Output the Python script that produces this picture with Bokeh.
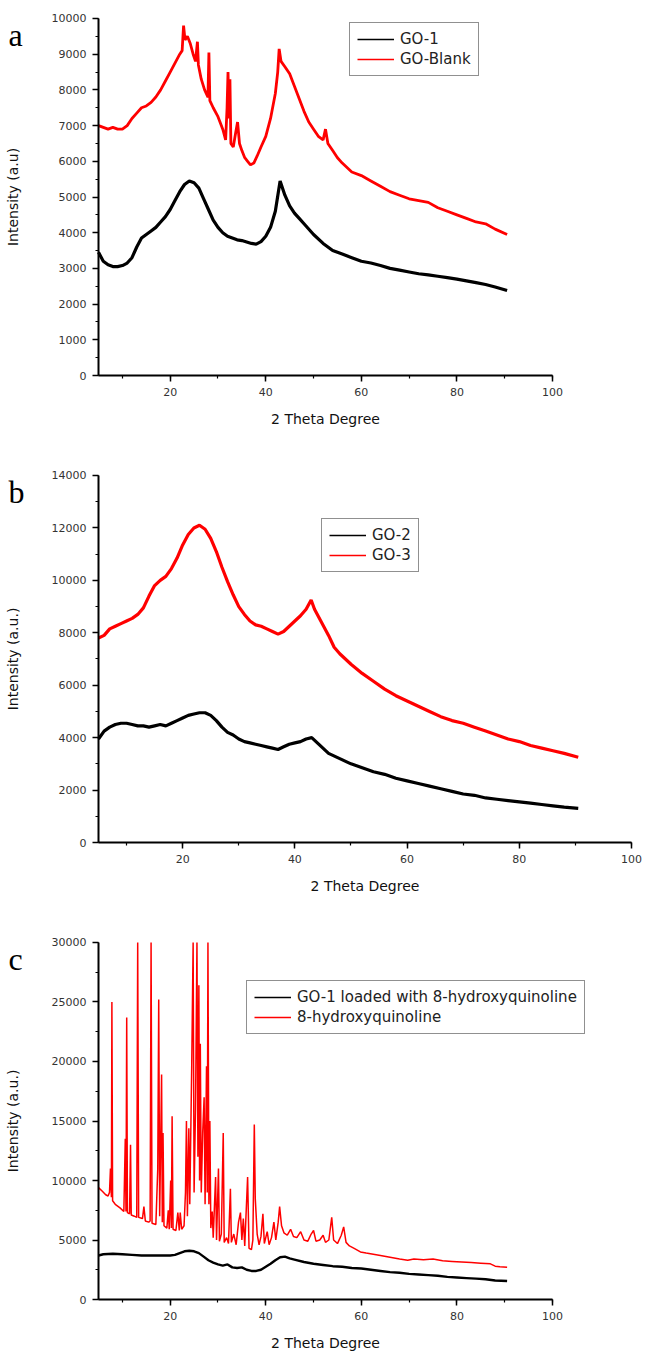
from bokeh.plotting import figure
from bokeh.layouts import column
from bokeh.models import Range1d, SingleIntervalTicker, Legend, LegendItem, Label
from bokeh.embed import file_html
from bokeh.resources import INLINE

# ---------------- Panel a ----------------
a_go1_x = [5, 6, 7, 8, 9, 10, 11, 12, 13, 14, 15, 16, 17, 18, 19, 20, 21, 22, 23, 24, 25, 26, 27, 28, 29, 30,
           31, 32, 33, 34, 35, 36, 37, 38, 39, 40, 41, 42, 43, 44, 45, 46, 47, 48, 50, 52, 54, 56, 58, 60, 62,
           64, 66, 68, 70, 72, 74, 76, 78, 80, 82, 84, 86, 88, 90.5]
a_go1_y = [3450, 3200, 3100, 3050, 3050, 3080, 3150, 3300, 3600, 3850, 3950, 4050, 4150, 4300, 4450, 4650, 4900,
           5150, 5350, 5450, 5400, 5250, 4950, 4650, 4350, 4150, 4000, 3900, 3850, 3800, 3780, 3740, 3700, 3680,
           3750, 3900, 4150, 4600, 5450, 5050, 4750, 4550, 4400, 4250, 3950, 3700, 3500, 3400, 3300, 3200, 3150,
           3080, 3000, 2950, 2900, 2850, 2820, 2780, 2740, 2700, 2650, 2600, 2550, 2480, 2380]
a_blank_x = [5, 6, 7, 8, 9, 10, 11, 12, 13, 14, 15, 16, 17, 18, 19, 20, 21, 22, 22.5, 22.8, 23.1, 23.6, 24.2,
             24.8, 25.3, 25.7, 25.9, 26.5, 27.2, 27.9, 28.1, 28.3, 29, 30, 31, 31.6, 31.9, 32.1, 32.3, 32.5, 32.7,
             33.2, 33.7, 34.1, 34.5, 35, 35.6, 36.2, 36.8, 37.5, 38.2, 39, 40, 41, 42, 42.5, 42.8, 43.2, 44, 45,
             46, 47, 48, 49, 50, 51, 52, 52.5, 53, 54, 55, 56, 58, 60, 62, 64, 66, 68, 70, 72, 74, 76, 78, 80,
             82, 84, 86, 88, 90.5]
a_blank_y = [7000, 6950, 6900, 6950, 6900, 6900, 7000, 7200, 7350, 7500, 7550, 7650, 7800, 8000, 8250, 8500,
             8750, 9000, 9100, 9800, 9400, 9500, 9300, 9000, 8800, 9350, 8700, 8300, 8000, 7800, 9050, 7700,
             7500, 7250, 6900, 6600, 7500, 8500, 7200, 8300, 6500, 6400, 6800, 7100, 6500, 6300, 6100, 6000,
             5900, 5950, 6150, 6400, 6700, 7200, 7900, 8500, 9150, 8800, 8650, 8450, 8100, 7750, 7400, 7100,
             6900, 6700, 6600, 6900, 6500, 6300, 6100, 5950, 5700, 5600, 5450, 5300, 5150, 5050, 4950, 4900,
             4850, 4700, 4600, 4500, 4400, 4300, 4250, 4100, 3950]

# ---------------- Panel b ----------------
b_x = [5, 6, 7, 8, 9, 10, 11, 12, 13, 14, 15, 16, 17, 18, 19, 20, 21, 22, 23, 24, 25, 26, 27, 28, 29, 30, 31,
       32, 33, 34, 35, 36, 37, 38, 39, 40, 41, 42, 43, 44, 45, 46, 48, 50, 52, 54, 56, 58, 60, 62, 64, 66, 68,
       70, 72, 74, 76, 78, 80, 82, 84, 86, 88, 90.5]
b_go2_y = [3950, 4250, 4400, 4500, 4550, 4550, 4500, 4450, 4450, 4400, 4450, 4500, 4450, 4550, 4650, 4750,
           4850, 4900, 4950, 4950, 4850, 4650, 4400, 4200, 4100, 3950, 3850, 3800, 3750, 3700, 3650, 3600, 3550,
           3650, 3750, 3800, 3850, 3950, 4000, 3800, 3600, 3400, 3200, 3000, 2850, 2700, 2600, 2450, 2350, 2250,
           2150, 2050, 1950, 1850, 1800, 1700, 1650, 1600, 1550, 1500, 1450, 1400, 1350, 1300]
b_go3_x = [5, 6, 7, 8, 9, 10, 11, 12, 13, 14, 15, 16, 17, 18, 19, 20, 21, 22, 23, 24, 25, 26, 27, 28, 29, 30,
           31, 32, 33, 34, 35, 36, 37, 38, 39, 40, 41, 42, 42.9, 43.5, 44.5, 46, 47, 48, 50, 52, 54, 56, 58, 60,
           62, 64, 66, 68, 70, 72, 74, 76, 78, 80, 82, 84, 86, 88, 90.5]
b_go3_y = [7800, 7900, 8150, 8250, 8350, 8450, 8550, 8700, 8950, 9400, 9800, 10000, 10150, 10450, 10850, 11350,
           11750, 12000, 12100, 11950, 11600, 11100, 10500, 9950, 9450, 9000, 8700, 8450, 8300, 8250, 8150,
           8050, 7950, 8050, 8250, 8450, 8650, 8900, 9250, 8900, 8500, 7900, 7450, 7200, 6800, 6450, 6150, 5850,
           5600, 5400, 5200, 5000, 4800, 4650, 4550, 4400, 4250, 4100, 3950, 3850, 3700, 3600, 3500, 3400, 3250]

# ---------------- Panel c ----------------
c_load_x = [5, 6, 8, 10, 12, 14, 16, 18, 20, 21, 22, 23, 24, 25, 26, 27, 28, 29, 30, 31, 32, 33, 34, 35, 36,
            37, 38, 39, 40, 41, 42, 43, 44, 45, 46, 48, 50, 52, 54, 56, 58, 60, 62, 64, 66, 68, 70, 72, 74, 76,
            78, 80, 82, 84, 86, 88, 90.5]
c_load_y = [3700, 3800, 3850, 3800, 3750, 3700, 3700, 3700, 3700, 3750, 3900, 4050, 4100, 4050, 3900, 3600,
            3300, 3100, 2950, 2850, 2950, 2700, 2650, 2700, 2500, 2400, 2400, 2500, 2750, 3000, 3300, 3550, 3600,
            3450, 3350, 3150, 3000, 2900, 2800, 2750, 2650, 2600, 2500, 2400, 2300, 2250, 2150, 2100, 2050, 2000,
            1900, 1850, 1800, 1750, 1700, 1600, 1550]
c_hq_x = [5.0, 5.8, 6.5, 7.0, 7.3, 7.5, 7.7, 7.8, 7.95, 8.5, 9.5, 10.3, 10.6, 10.75, 10.9, 11.05, 11.5, 11.7,
          11.85, 12.5, 13.0, 13.2, 13.4, 14.2, 14.5, 14.8, 15.5, 15.8, 16.0, 16.2, 17.0, 17.4, 17.6, 17.8, 18.2,
          18.35, 18.5, 18.7, 19.3, 19.6, 19.8, 20.1, 20.25, 20.4, 20.6, 21.2, 21.6, 21.9, 22.1, 22.4, 22.9, 23.2,
          23.4, 23.6, 23.9, 24.1, 24.5, 24.8, 25.0, 25.3, 25.6, 25.8, 26.0, 26.15, 26.3, 26.5, 26.8, 27.1, 27.3,
          27.6, 27.75, 27.9, 28.1, 28.3, 28.5, 28.8, 29.0, 29.5, 29.7, 30.1, 30.3, 30.7, 31.1, 31.3, 31.8, 32.2,
          32.6, 32.8, 33.3, 33.8, 34.3, 34.7, 35.0, 35.3, 35.6, 36.2, 36.5, 37.0, 37.3, 37.6, 37.8, 38.2, 38.6,
          39.0, 39.4, 39.7, 40.3, 40.7, 41.2, 41.7, 42.1, 42.6, 42.9, 43.3, 43.8, 44.5, 45.2, 45.8, 46.5, 47.3,
          48.0, 48.8, 49.5, 50.0, 50.5, 51.3, 52.0, 52.5, 53.2, 53.8, 54.2, 55.0, 55.8, 56.3, 56.8, 57.5, 58.5,
          59.8, 61.0, 62.5, 64.0, 66.0, 68.0, 69.7, 71.0, 73.0, 75.0, 77.0, 79.0, 81.0, 83.0, 85.0, 87.0, 88.0,
          89.0, 90.5]
c_hq_y = [9400, 9100, 8800, 8700, 9000, 11000, 8600, 25000, 8300, 8000, 7700, 7400, 13500, 7400, 23700, 7300,
          7200, 13000, 7100, 7000, 6900, 30000, 6900, 6800, 7800, 6600, 6500, 6600, 30000, 6400, 6300, 11000,
          25200, 7000, 18900, 6500, 14000, 6200, 6000, 7500, 5900, 10000, 6000, 15400, 5900, 5800, 7300, 5800,
          7300, 5900, 6200, 9000, 15000, 7000, 14400, 8000, 19500, 30000, 9000, 16000, 30000, 12000, 26400,
          10000, 21500, 9000, 14000, 17000, 8000, 19600, 9000, 30000, 8000, 15000, 6000, 7400, 5200, 10300,
          5000, 11000, 4900, 5500, 14000, 4800, 5200, 4700, 9300, 4800, 5500, 4600, 6500, 7300, 5000, 6800,
          4500, 10300, 4300, 4200, 5000, 14700, 8500, 5500, 4600, 5300, 7200, 4700, 5700, 4600, 5200, 6500,
          5000, 6500, 7800, 6200, 5600, 5400, 5900, 5300, 5200, 5700, 5000, 4900, 5500, 5800, 4900, 5000, 5400,
          4800, 5000, 6900, 5000, 4700, 5400, 6100, 4800, 4500, 4300, 4000, 3900, 3800, 3700, 3550, 3400, 3300,
          3400, 3350, 3400, 3250, 3200, 3150, 3100, 3050, 3000, 2800, 2750, 2700]

FONT = "DejaVu Sans"
W = 646
NAN = float("nan")


def make_fig(height, xr, yr, ymax, yint, ylabel):
    p = figure(width=W, height=height, output_backend="svg", toolbar_location=None,
               x_range=Range1d(*xr), y_range=Range1d(*yr),
               min_border_left=0, min_border_right=0, min_border_top=0, min_border_bottom=0)
    p.xgrid.visible = False
    p.ygrid.visible = False
    p.outline_line_color = None
    p.background_fill_color = "white"
    p.border_fill_color = "white"
    p.xaxis.ticker = SingleIntervalTicker(interval=20, num_minor_ticks=2)
    p.yaxis.ticker = SingleIntervalTicker(interval=yint, num_minor_ticks=2)
    p.xaxis.fixed_location = 0
    p.yaxis.fixed_location = 5
    p.xaxis.bounds = (5, 100)
    p.yaxis.bounds = (0, ymax)
    for ax in (p.xaxis[0], p.yaxis[0]):
        ax.axis_line_width = 2
        ax.axis_line_color = "black"
        ax.major_tick_line_width = 1.5
        ax.minor_tick_line_width = 1.2
        ax.major_tick_out = 6
        ax.major_tick_in = 0
        ax.minor_tick_out = 3
        ax.minor_tick_in = 0
        ax.major_label_standoff = 6
        ax.major_label_text_font = FONT
        ax.major_label_text_font_size = "11px"
        ax.major_label_text_color = "#333333"
        ax.axis_label_text_font = FONT
        ax.axis_label_text_font_size = "14px"
        ax.axis_label_text_font_style = "normal"
        ax.axis_label_text_color = "#111111"
    p.xaxis.axis_label = "2 Theta Degree"
    p.xaxis.axis_label_standoff = 12
    p.yaxis.axis_label = ylabel
    p.yaxis.axis_label_standoff = 28
    return p


def add_legend(p, labels, colors, loc):
    # thin sample lines used only as legend swatches (a single NaN point draws nothing)
    items = []
    for lab, col in zip(labels, colors):
        r = p.line([NAN], [NAN], line_color=col, line_width=1.6)
        items.append(LegendItem(label=lab, renderers=[r]))
    lg = Legend(items=items, location=loc, border_line_color="#222222", border_line_width=1.5,
                padding=7, spacing=2, margin=0, label_height=18, glyph_height=18, glyph_width=37,
                label_standoff=6, label_text_font=FONT, label_text_font_size="15px",
                label_text_color="#222222", background_fill_alpha=1.0)
    p.add_layout(lg)


def add_letter(p, txt, x, y):
    p.add_layout(Label(x=x, y=y, text=txt, text_font="Liberation Serif", text_font_size="32px",
                       text_align="left", text_baseline="alphabetic", text_color="black"))


# ---- figure a ----
pa = make_fig(440, (-15.51, 119.67), (-1820.7, 10504.2), 10000, 1000, "Intensity (a.u)")
pa.line(a_go1_x, a_go1_y, line_color="black", line_width=3.2)
pa.line(a_blank_x, a_blank_y, line_color="red", line_width=2.8)
add_legend(pa, ["GO-1", "GO-Blank"], ["black", "red"], (349, 364))
add_letter(pa, "a", -13.84, 9551.8)

# ---- figure b ----
pb = make_fig(460, (-12.466, 102.666), (-2212.5, 15335.1), 14000, 2000, "Intensity (a.u.)")
pb.line(b_x, b_go2_y, line_color="black", line_width=3.2)
pb.line(b_go3_x, b_go3_y, line_color="red", line_width=3.2)
add_legend(pb, ["GO-2", "GO-3"], ["black", "red"], (321, 328))
add_letter(pb, "b", -11.04, 13351.5)

# ---- figure c ----
pc = make_fig(453, (-15.51, 119.67), (-4537.8, 33529.4), 30000, 5000, "Intensity (a.u.)")
pc.line(c_load_x, c_load_y, line_color="black", line_width=2.4)
pc.line(c_hq_x, c_hq_y, line_color="red", line_width=1.5)
add_legend(pc, ["GO-1 loaded with 8-hydroxyquinoline", "8-hydroxyquinoline"], ["black", "red"], (246, 319))
add_letter(pc, "c", -13.84, 28655.0)

layout = column(pa, pb, pc, spacing=0)
open("out.html", "w").write(file_html(layout, INLINE))
